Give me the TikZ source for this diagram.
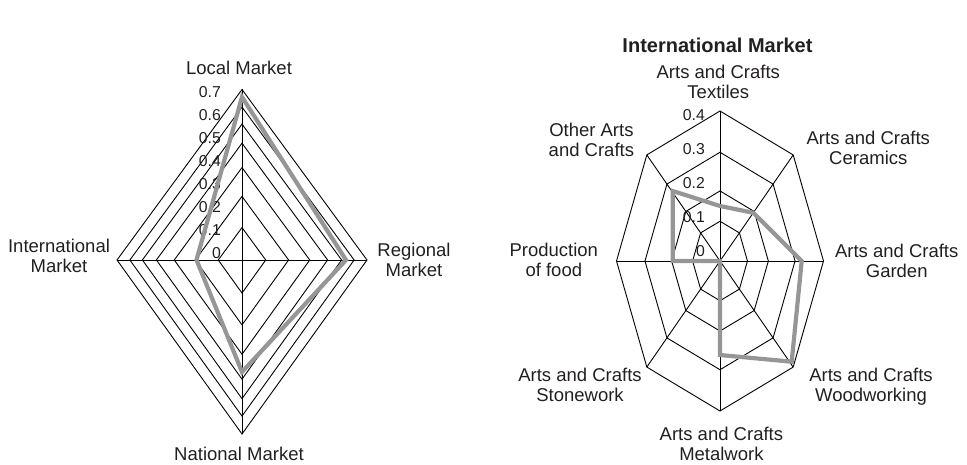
\documentclass[tikz,border=0pt]{standalone}
\usepackage{fontspec}
\setmainfont{Liberation Sans}
\newcommand\axfont{\fontsize{18.5bp}{20bp}\selectfont}
\newcommand\tickfont{\fontsize{15.8bp}{17bp}\selectfont}
\newcommand\ttlfont{\bfseries\fontsize{20bp}{22bp}\selectfont}
\definecolor{txt}{RGB}{35,31,32}
\definecolor{datagray}{RGB}{150,150,150}
\tikzset{
  gridline/.style={draw=black, line width=0.9bp, line join=miter},
  datapoly/.style={draw=datagray, line width=4.2bp, line join=miter},
  axlabel/.style={align=center, font=\axfont, text=txt, inner sep=0pt},
  ticklabel/.style={anchor=east, font=\tickfont, text=txt, inner sep=0pt},
  ttl/.style={font=\ttlfont, text=txt, inner sep=0pt}
}
\begin{document}
\begin{tikzpicture}[x=1bp,y=-1bp]
\useasboundingbox (0,0) rectangle (967,465);

% ---------------- left chart ----------------
\coordinate (Lc) at (242,260);
\foreach \f in {0.19,0.373,0.542,0.685,0.797,0.897,1} {
  \draw[gridline] ({242},{260-170.5*\f}) -- ({242+125*\f},{260}) -- ({242},{260+174*\f}) -- ({242-125*\f},{260}) -- cycle;
}
\coordinate (Ltop) at (242,89.5);
\coordinate (Lbot) at (242,434);
\coordinate (Lleft) at (117,260);
\coordinate (Lright) at (367,260);
\draw[gridline] (Ltop) -- (Lbot);
\draw[gridline] (Lleft) -- (Lright);

\foreach \v [count=\k from 0] in {0,0.1,0.2,0.3,0.4,0.5,0.6,0.7} {
  \node[ticklabel] (lt\k) at ({221},{253.3-23.1*\k}) {\v};
}

\node[axlabel] (lLocal) at (239,68.3) {Local Market};
\node[axlabel] (lReg) at (414,259.5) {Regional\\Market};
\node[axlabel] (lInt) at (59,256) {International\\Market};
\node[axlabel] (lNat) at (239,453.5) {National Market};

\coordinate (d1) at (242,97);
\coordinate (d2) at (346,260);
\coordinate (d3) at (242,372);
\coordinate (d4) at (196.5,260);
\draw[datapoly] (d1) -- (d2) -- (d3) -- (d4) -- cycle;

% ---------------- right chart ----------------
\node[ttl] (title) at (717.5,45) {International Market};
\coordinate (Rc) at (720,261);
\foreach \f in {0.265,0.467,0.725,1} {
  \draw[gridline] plot[samples at={0,45,...,315}] ({720+103.5*\f*sin(\x)},{261-150*\f*cos(\x)}) -- cycle;
}
\foreach \a in {0,45,...,315} {
  \coordinate (sp\a) at ({720+103.5*sin(\a)},{261-150*cos(\a)});
  \draw[gridline] (Rc) -- (sp\a);
}

\foreach \v [count=\k from 0] in {0,0.1,0.2,0.3,0.4} {
  \node[ticklabel] (rt\k) at ({705},{250.7-33.9*\k}) {\v};
}

\node[axlabel] (rTex) at (718.3,81.7) {Arts and Crafts\\Textiles};
\node[axlabel] (rCer) at (868.3,148) {Arts and Crafts\\Ceramics};
\node[axlabel] (rGar) at (896.7,260.5) {Arts and Crafts\\Garden};
\node[axlabel] (rWood) at (871,386.5) {Arts and Crafts\\Woodworking};
\node[axlabel] (rMet) at (721.4,443.5) {Arts and Crafts\\Metalwork};
\node[axlabel] (rSto) at (580,384.8) {Arts and Crafts\\Stonework};
\node[axlabel] (rProd) at (553.8,259.5) {Production\\of food};
\node[axlabel] (rOth) at (591.4,139.8) {Other Arts\\and Crafts};

\coordinate (e1) at (720,206);
\coordinate (e2) at (753.3,212.8);
\coordinate (e3) at (801.7,261);
\coordinate (e4) at (791.7,361.7);
\coordinate (e5) at (720,355);
\coordinate (e6) at (720,261);
\coordinate (e7) at (672.7,261);
\coordinate (e8) at (672.7,191);
\draw[datapoly] (e1) -- (e2) -- (e3) -- (e4) -- (e5) -- (e6) -- (e7) -- (e8) -- cycle;
\end{tikzpicture}
\end{document}
